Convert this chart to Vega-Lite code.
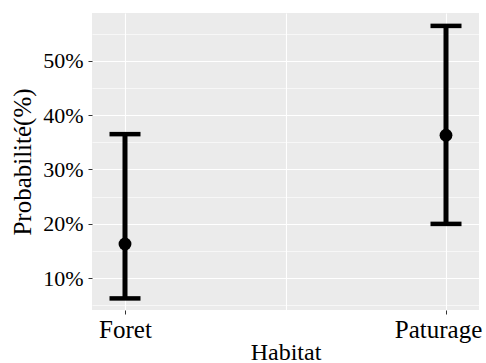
{
  "$schema": "https://vega.github.io/schema/vega-lite/v6.json",
  "autosize": {"type": "none"},
  "padding": {"left": 92, "top": 13, "right": 7, "bottom": 53},
  "width": 387,
  "height": 297,
  "background": "white",
  "config": {
    "font": "Liberation Serif",
    "view": {"fill": "#EBEBEB", "stroke": null}
  },
  "data": {
    "values": [
      {"Habitat": "Foret", "p": 0.163, "lower": 0.063, "upper": 0.365},
      {"Habitat": "Paturage", "p": 0.363, "lower": 0.200, "upper": 0.564}
    ]
  },
  "encoding": {
    "x": {
      "field": "Habitat",
      "type": "nominal",
      "scale": {"type": "point", "domain": ["Foret", " ", "Paturage"], "padding": 0.2056},
      "axis": {
        "title": "Habitat",
        "titleFontSize": 24,
        "titleFontWeight": "normal",
        "titleColor": "black",
        "titleY": 49,
        "titleBaseline": "alphabetic",
        "labelAngle": 0,
        "labelFontSize": 25,
        "labelColor": "black",
        "labelBaseline": "alphabetic",
        "labelPadding": 23,
        "labelOffset": {"condition": {"test": "datum.value === 'Paturage'", "value": -8}, "value": 0},
        "tickSize": 4,
        "tickColor": {"condition": {"test": "datum.value === ' '", "value": "transparent"}, "value": "#333333"},
        "domain": false,
        "grid": true,
        "gridColor": "white",
        "gridWidth": 1.1
      }
    }
  },
  "resolve": {"axis": {"y": "independent"}},
  "layer": [
    {
      "mark": {"type": "rule", "color": "black", "strokeWidth": 5},
      "encoding": {
        "y": {
          "field": "lower",
          "type": "quantitative",
          "title": "Probabilité(%)",
          "scale": {"domain": [0.0417, 0.5877], "nice": false, "zero": false},
          "axis": {
            "values": [0.05, 0.1, 0.15, 0.2, 0.25, 0.3, 0.35, 0.4, 0.45, 0.5, 0.55],
            "labelExpr": "abs(datum.value*10 - round(datum.value*10)) < 0.01 ? format(datum.value, '.0%') : ''",
            "labelFontSize": 22,
            "labelColor": "black",
            "labelPadding": 5,
            "labelOverlap": false,
            "tickSize": 4,
            "tickColor": {"condition": {"test": "abs(datum.value*10 - round(datum.value*10)) > 0.01", "value": "transparent"}, "value": "#333333"},
            "domain": false,
            "grid": true,
            "gridColor": "white",
            "gridWidth": {"condition": {"test": "abs(datum.value*10 - round(datum.value*10)) > 0.01", "value": 0.6}, "value": 1.2},
            "titleFontSize": 25,
            "titleFontWeight": "normal",
            "titleColor": "black",
            "titleX": -62,
            "titleBaseline": "alphabetic"
          }
        },
        "y2": {"field": "upper"}
      }
    },
    {
      "mark": {"type": "tick", "color": "black", "opacity": 1, "size": 31, "thickness": 4.5},
      "encoding": {
        "y": {"field": "lower", "type": "quantitative", "axis": null}
      }
    },
    {
      "mark": {"type": "tick", "color": "black", "opacity": 1, "size": 31, "thickness": 4.5},
      "encoding": {
        "y": {"field": "upper", "type": "quantitative", "axis": null}
      }
    },
    {
      "mark": {"type": "point", "filled": true, "shape": "circle", "color": "black", "opacity": 1, "size": 165},
      "encoding": {
        "y": {"field": "p", "type": "quantitative", "axis": null}
      }
    }
  ]
}
